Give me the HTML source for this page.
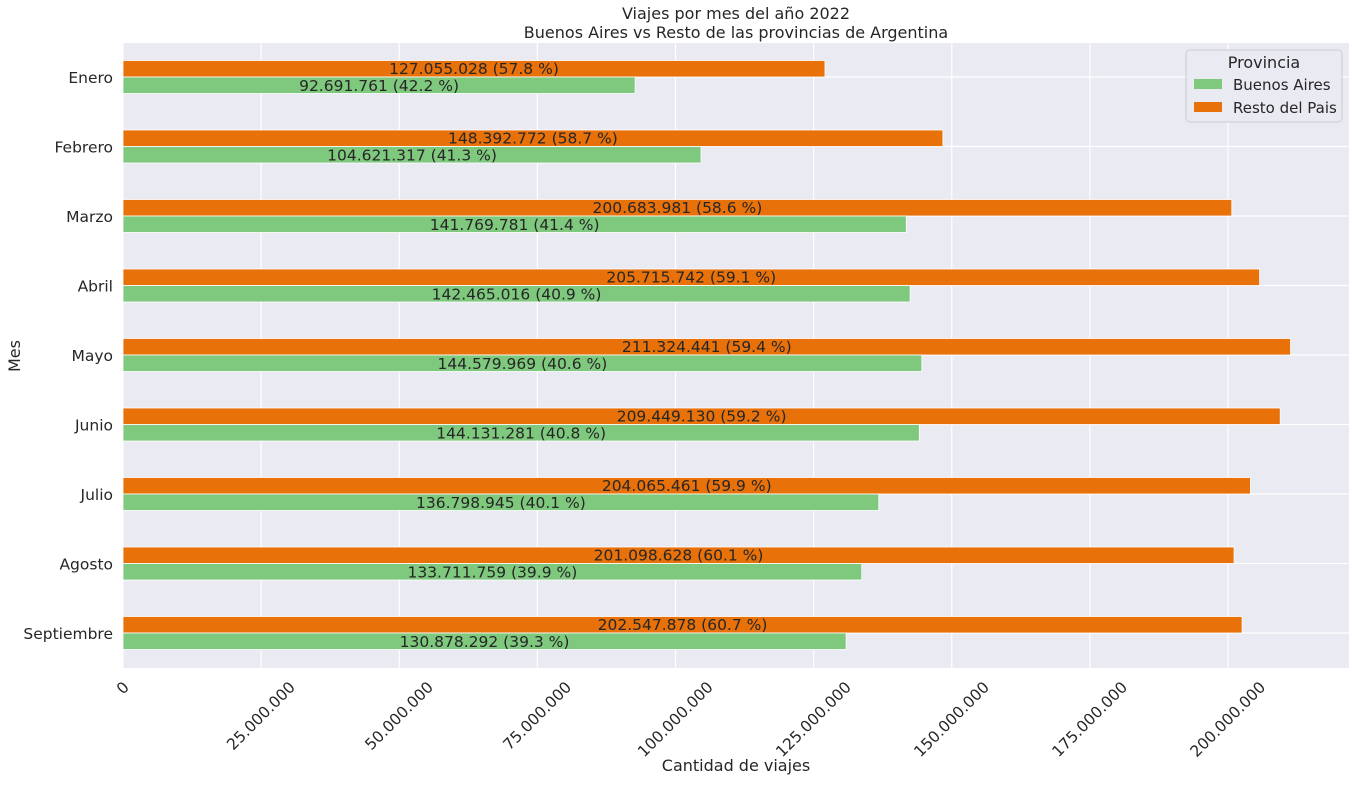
<!DOCTYPE html>
<html><head><meta charset="utf-8"><style>
body{margin:0;background:#fff;font-family:"Liberation Sans","DejaVu Sans",sans-serif;}
svg text{font-family:"DejaVu Sans","Liberation Sans",sans-serif;fill:#262626;}
</style></head><body>
<svg id="chart" width="1356" height="781"></svg>
<script>
const months=["Enero","Febrero","Marzo","Abril","Mayo","Junio","Julio","Agosto","Septiembre"];
const baValues=[92691761,104621317,141769781,142465016,144579969,144131281,136798945,133711759,130878292];
const restoValues=[127055028,148392772,200683981,205715742,211324441,209449130,204065461,201098628,202547878];
const baPct=["42.2","41.3","41.4","40.9","40.6","40.8","40.1","39.9","39.3"];
const restoPct=["57.8","58.7","58.6","59.1","59.4","59.2","59.9","60.1","60.7"];
const xTicks=[0,25000000,50000000,75000000,100000000,125000000,150000000,175000000,200000000];

const svg=document.getElementById('chart');
const NS='http://www.w3.org/2000/svg';
const L=123,R=1349,T=43,B=668;
const x=v=>L+v*(1105/200000000);
const y=i=>77+i*69.5;
const fmt=v=>v.toString().replace(/\B(?=(\d{3})+(?!\d))/g,'.');
function el(tag,attrs,txt){const e=document.createElementNS(NS,tag);for(const k in attrs)e.setAttribute(k,attrs[k]);if(txt!==undefined)e.textContent=txt;svg.appendChild(e);return e;}

const bg=el('rect',{x:L,y:T,width:R-L,height:B-T,fill:'#eaeaf2'});


xTicks.forEach(t=>{
  const g=el('line',{x1:x(t),x2:x(t),y1:T,y2:B,stroke:'#fff','stroke-width':1.2});
  
  
  const tx=el('text',{x:0,y:0,'font-size':15.5,'text-anchor':'middle','dominant-baseline':'central'},fmt(t));
  
  
  const len=tx.getComputedTextLength();
  const cx=x(t), cy=B+11+(len+16)*0.707/2;
  tx.setAttribute('x',cx);tx.setAttribute('y',cy);
  tx.setAttribute('transform',`rotate(-45 ${cx} ${cy})`);
});
months.forEach((m,i)=>{
  const g=el('line',{x1:L,x2:R,y1:y(i),y2:y(i),stroke:'#fff','stroke-width':1.2});
  
  
});
months.forEach((m,i)=>{
  const c=y(i);
  const ro=el('rect',{x:L,y:c-16.5,width:x(restoValues[i])-L,height:16.5,fill:'#e8710a',stroke:'#fff','stroke-width':0.8});
  
  
  const ba=el('rect',{x:L,y:c,width:x(baValues[i])-L,height:16.5,fill:'#7fc97f',stroke:'#fff','stroke-width':0.8});
  
  
  const t1=el('text',{x:(L+x(restoValues[i]))/2,y:c-3,'font-size':15.5,'text-anchor':'middle'},fmt(restoValues[i])+' ('+restoPct[i]+' %)');
  
  
  const t2=el('text',{x:(L+x(baValues[i]))/2,y:c+14,'font-size':15.5,'text-anchor':'middle'},fmt(baValues[i])+' ('+baPct[i]+' %)');
  
  
  const yl=el('text',{x:113,y:c+6,'font-size':15.5,'text-anchor':'end'},m);
  
  
});
let e;
e=el('text',{x:736,y:19,'font-size':16,'text-anchor':'middle'},'Viajes por mes del año 2022');

e=el('text',{x:736,y:38,'font-size':16,'text-anchor':'middle'},'Buenos Aires vs Resto de las provincias de Argentina');

e=el('text',{x:736,y:771,'font-size':16,'text-anchor':'middle'},'Cantidad de viajes');

e=el('text',{x:20,y:356,'font-size':16,'text-anchor':'middle',transform:'rotate(-90 20 356)'},'Mes');

e=el('rect',{x:1186,y:50,width:156,height:72,rx:4,fill:'#eaeaf2',stroke:'#ccc','stroke-width':1});

e=el('text',{x:1264,y:68,'font-size':16,'text-anchor':'middle'},'Provincia');

e=el('rect',{x:1194,y:79,width:28,height:10,fill:'#7fc97f'});

e=el('text',{x:1233,y:90,'font-size':15},'Buenos Aires');

e=el('rect',{x:1194,y:102,width:28,height:10,fill:'#e8710a'});

e=el('text',{x:1233,y:113,'font-size':15},'Resto del Pais');

</script>
</body></html>
